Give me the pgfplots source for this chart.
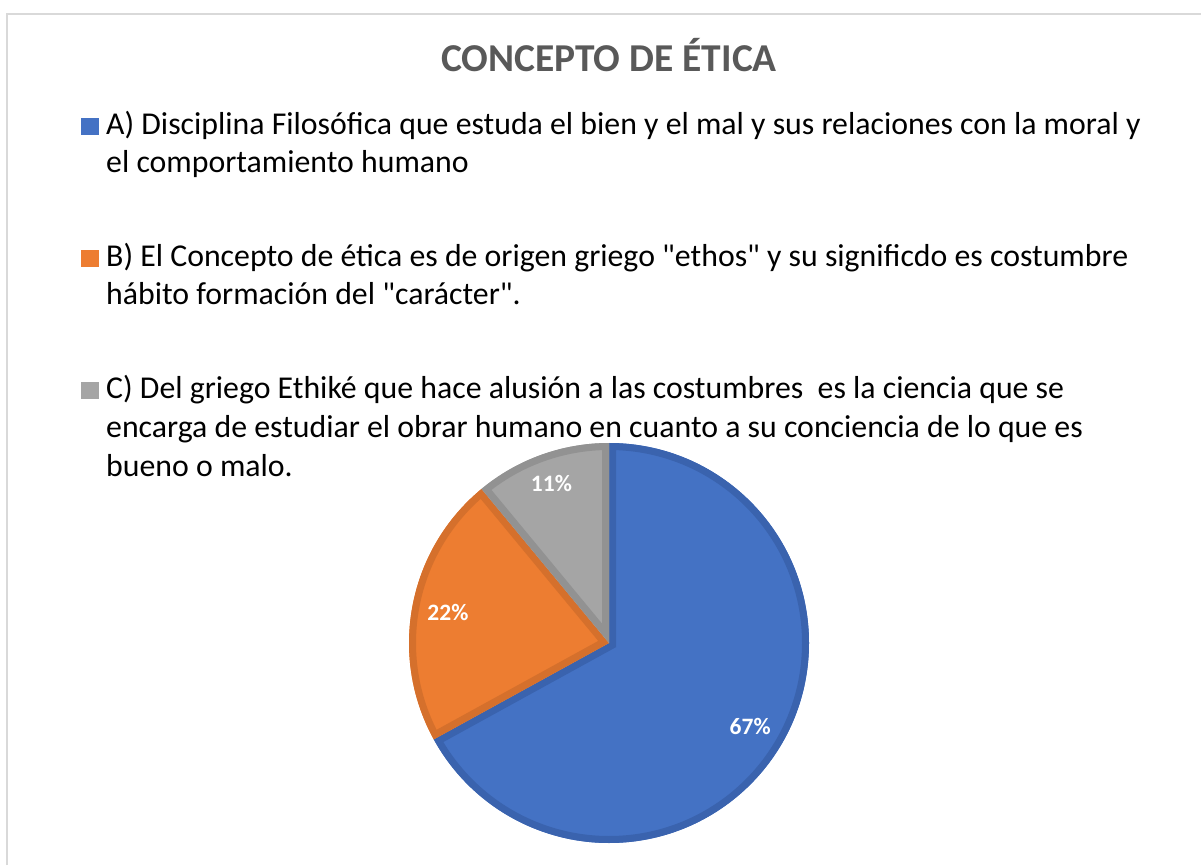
\documentclass[border=0pt]{standalone}
\usepackage{fontspec}
\setmainfont{Carlito}[Ligatures=TeXOff]
\usepackage{pgfplots}
\usepackage{pgfplotstable}
\pgfplotsset{compat=1.18}

\definecolor{sliceA}{HTML}{4472C4}
\definecolor{edgeA}{HTML}{3A63AE}
\definecolor{sliceB}{HTML}{ED7D31}
\definecolor{edgeB}{HTML}{D5702C}
\definecolor{sliceC}{HTML}{A5A5A5}
\definecolor{edgeC}{HTML}{929292}
\definecolor{titlegray}{HTML}{595959}
\definecolor{framegray}{HTML}{D9D9D9}

% answer shares, percent
\pgfplotstableread{
answer share
A 67
B 22
C 11
}\sharetable

% one wedge: start angle, end angle, fill, edge
\newcommand\pieslice[4]{%
  \begin{scope}
    \clip (axis cs:609,222) -- ++(#1:200pt) arc[start angle=#1,end angle=#2,radius=200pt] -- cycle;
    \fill[#3] (axis cs:609,222) circle[radius=205pt];
    \draw[#4,line width=14pt] (axis cs:609,222) -- ++(#1:200pt) arc[start angle=#1,end angle=#2,radius=200pt] -- cycle;
  \end{scope}}

\begin{document}
\begin{tikzpicture}
\pgfplotstablegetelem{0}{share}\of\sharetable \let\shA\pgfplotsretval
\pgfplotstablegetelem{1}{share}\of\sharetable \let\shB\pgfplotsretval
\pgfplotstablegetelem{2}{share}\of\sharetable \let\shC\pgfplotsretval
\pgfmathsetmacro{\eA}{90-3.6*\shA}
\pgfmathsetmacro{\eB}{\eA-3.6*\shB}
\pgfmathsetmacro{\eC}{\eB-3.6*\shC}
\pgfmathsetmacro{\mA}{(90+\eA)/2}
\pgfmathsetmacro{\mB}{(\eA+\eB)/2}
\pgfmathsetmacro{\mC}{(\eB+\eC)/2}
\begin{axis}[
  width=1201pt, height=865pt, scale only axis,
  xmin=0, xmax=1201, ymin=0, ymax=865,
  hide axis, clip=false,
]
\coordinate (bl) at (axis cs:0,0);
\coordinate (tr) at (axis cs:1201,865);
% chart frame
\draw[framegray,line width=2pt] (axis cs:7,0) -- (axis cs:7,851) -- (axis cs:1201,851);

% pie
\pieslice{90}{\eA}{sliceA}{edgeA}
\pieslice{\eA}{\eB}{sliceB}{edgeB}
\pieslice{\eB}{\eC}{sliceC}{edgeC}

\path (axis cs:609,222) ++(\mA:164pt) node[white,font=\bfseries\fontsize{23.5}{28}\selectfont] {\shA\%};
\path (axis cs:609,222) ++(\mB:164pt) node[white,font=\bfseries\fontsize{23.5}{28}\selectfont] {\shB\%};
\path (axis cs:609,222) ++(\mC:170pt) node[white,font=\bfseries\fontsize{23.5}{28}\selectfont] {\shC\%};

% title
\node[anchor=base,titlegray,font=\bfseries\fontsize{39.5}{46}\selectfont,inner sep=0pt] at (axis cs:609,793) {CONCEPTO DE ÉTICA};

% legend
\fill[sliceA] (axis cs:81,730) rectangle (axis cs:99,747);
\fill[sliceB] (axis cs:81,598) rectangle (axis cs:99,615);
\fill[sliceC] (axis cs:81,466) rectangle (axis cs:99,483);
\begin{scope}[every node/.style={anchor=base west,inner sep=0pt,font=\fontsize{31.8}{38}\selectfont}]
\node at (axis cs:106,730) {A) Disciplina Filosófica que estuda el bien y el mal y sus relaciones con la moral y};
\node at (axis cs:106,692) {el comportamiento humano};
\node at (axis cs:106,598) {B) El Concepto de ética es de origen griego "ethos" y su significdo es costumbre};
\node at (axis cs:106,560) {hábito formación del "carácter".};
\node at (axis cs:106,466) {C) Del griego Ethiké que hace alusión a las costumbres~ es la ciencia que se};
\node at (axis cs:106,427) {encarga de estudiar el obrar humano en cuanto a su conciencia de lo que es};
\node at (axis cs:106,388) {bueno o malo.};
\end{scope}
\end{axis}
\pgfresetboundingbox
\path[use as bounding box] (bl) rectangle (tr);
\end{tikzpicture}
\end{document}
